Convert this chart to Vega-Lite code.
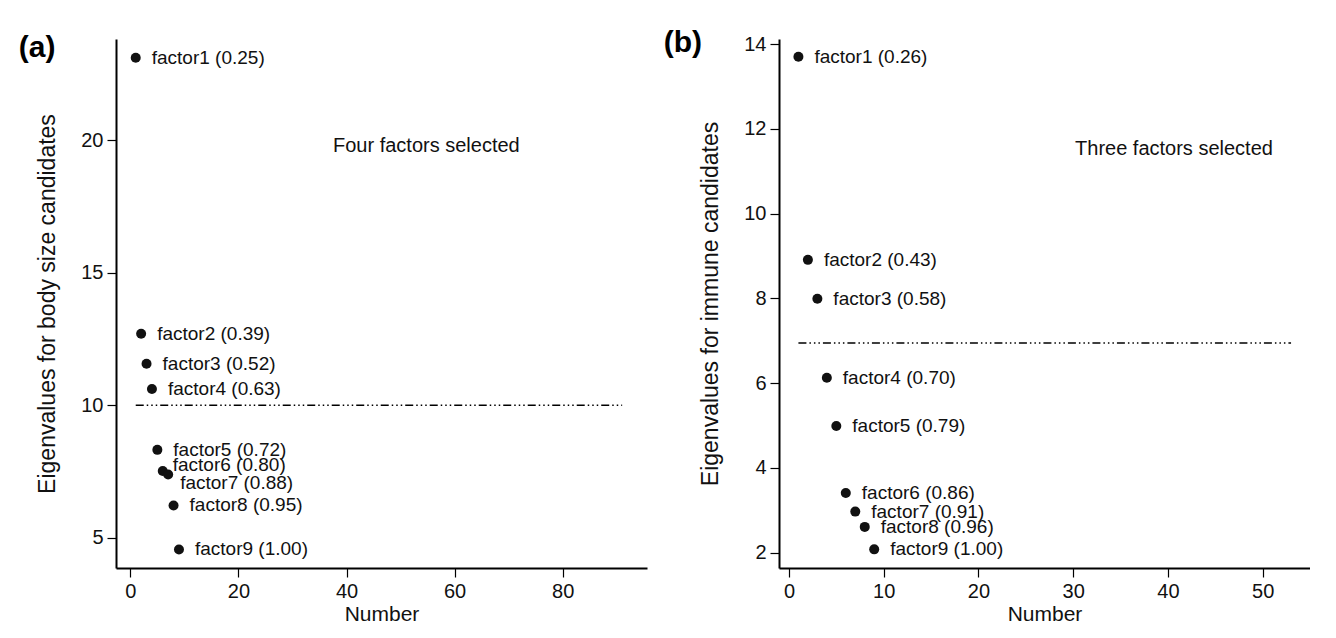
{
  "$schema": "https://vega.github.io/schema/vega-lite/v6.json",
  "background": "white",
  "padding": {"left": 18, "top": 28, "right": 0, "bottom": 0},
  "spacing": 16,
  "datasets": {
    "body": [
      {"n": 1, "eig": 23.12, "label": "factor1 (0.25)"},
      {"n": 2, "eig": 12.7, "label": "factor2 (0.39)"},
      {"n": 3, "eig": 11.57, "label": "factor3 (0.52)"},
      {"n": 4, "eig": 10.62, "label": "factor4 (0.63)"},
      {"n": 5, "eig": 8.32, "label": "factor5 (0.72)"},
      {"n": 6, "eig": 7.52, "label": "factor6 (0.80)"},
      {"n": 7, "eig": 7.39, "label": "factor7 (0.88)"},
      {"n": 8, "eig": 6.22, "label": "factor8 (0.95)"},
      {"n": 9, "eig": 4.56, "label": "factor9 (1.00)"}
    ],
    "immune": [
      {"n": 1, "eig": 13.7, "label": "factor1 (0.26)"},
      {"n": 2, "eig": 8.91, "label": "factor2 (0.43)"},
      {"n": 3, "eig": 7.99, "label": "factor3 (0.58)"},
      {"n": 4, "eig": 6.13, "label": "factor4 (0.70)"},
      {"n": 5, "eig": 4.99, "label": "factor5 (0.79)"},
      {"n": 6, "eig": 3.41, "label": "factor6 (0.86)"},
      {"n": 7, "eig": 2.97, "label": "factor7 (0.91)"},
      {"n": 8, "eig": 2.61, "label": "factor8 (0.96)"},
      {"n": 9, "eig": 2.08, "label": "factor9 (1.00)"}
    ]
  },
  "hconcat": [
    {
      "width": 531,
      "height": 529,
      "title": {"text": "(a)", "dx": -18, "dy": 28},
      "encoding": {
        "x": {"field": "n", "type": "quantitative", "scale": {"domain": [-2.65, 95.6], "nice": false, "zero": false}, "axis": {"values": [0, 20, 40, 60, 80], "title": "Number"}},
        "y": {"field": "eig", "type": "quantitative", "scale": {"domain": [3.86, 23.83], "nice": false, "zero": false}, "axis": {"values": [5, 10, 15, 20], "title": "Eigenvalues for body size candidates"}}
      },
      "layer": [
        {
          "data": {"values": [{"n": 1, "n2": 91, "eig": 10}]},
          "mark": {"type": "rule", "strokeDash": [8, 3, 1.5, 3, 1.5, 3, 1.5, 3], "strokeWidth": 1.5, "color": "#000"},
          "encoding": {"x2": {"field": "n2"}}
        },
        {
          "data": {"name": "body"},
          "mark": {"type": "circle", "size": 100, "opacity": 1, "color": "#111"}
        },
        {
          "data": {"name": "body"},
          "transform": [{"filter": "datum.n != 6 && datum.n != 7"}],
          "mark": {"type": "text", "align": "left", "baseline": "middle", "dx": 16, "fontSize": 19, "color": "#111"},
          "encoding": {"text": {"field": "label"}}
        },
        {
          "data": {"name": "body"},
          "transform": [{"filter": "datum.n == 6"}],
          "mark": {"type": "text", "align": "left", "baseline": "middle", "dx": 10, "dy": -6, "fontSize": 19, "color": "#111"},
          "encoding": {"text": {"field": "label"}}
        },
        {
          "data": {"name": "body"},
          "transform": [{"filter": "datum.n == 7"}],
          "mark": {"type": "text", "align": "left", "baseline": "middle", "dx": 12, "dy": 9, "fontSize": 19, "color": "#111"},
          "encoding": {"text": {"field": "label"}}
        },
        {
          "data": {"values": [{"n": 37.5, "eig": 19.8, "txt": "Four factors selected"}]},
          "mark": {"type": "text", "align": "left", "baseline": "middle", "fontSize": 20, "color": "#111"},
          "encoding": {"text": {"field": "txt"}}
        }
      ]
    },
    {
      "width": 531,
      "height": 529,
      "title": {"text": "(b)", "dx": -36, "dy": 28},
      "encoding": {
        "x": {"field": "n", "type": "quantitative", "scale": {"domain": [-1.05, 55.0], "nice": false, "zero": false}, "axis": {"values": [0, 10, 20, 30, 40, 50], "title": "Number"}},
        "y": {"field": "eig", "type": "quantitative", "scale": {"domain": [1.64, 14.12], "nice": false, "zero": false}, "axis": {"values": [2, 4, 6, 8, 10, 12, 14], "title": "Eigenvalues for immune candidates"}}
      },
      "layer": [
        {
          "data": {"values": [{"n": 1, "n2": 53, "eig": 6.95}]},
          "mark": {"type": "rule", "strokeDash": [8, 3, 1.5, 3, 1.5, 3, 1.5, 3], "strokeWidth": 1.5, "color": "#000"},
          "encoding": {"x2": {"field": "n2"}}
        },
        {
          "data": {"name": "immune"},
          "mark": {"type": "circle", "size": 100, "opacity": 1, "color": "#111"}
        },
        {
          "data": {"name": "immune"},
          "mark": {"type": "text", "align": "left", "baseline": "middle", "dx": 16, "fontSize": 19, "color": "#111"},
          "encoding": {"text": {"field": "label"}}
        },
        {
          "data": {"values": [{"n": 30.2, "eig": 11.52, "txt": "Three factors selected"}]},
          "mark": {"type": "text", "align": "left", "baseline": "middle", "fontSize": 20, "color": "#111"},
          "encoding": {"text": {"field": "txt"}}
        }
      ]
    }
  ],
  "config": {
    "view": {"stroke": null},
    "font": "Liberation Sans",
    "axis": {
      "grid": false,
      "domainColor": "#000",
      "domainWidth": 2,
      "tickColor": "#000",
      "tickWidth": 1.2,
      "tickSize": 9,
      "labelFont": "Liberation Sans",
      "labelFontSize": 20,
      "labelColor": "#111",
      "labelPadding": 4,
      "titleFont": "Liberation Sans",
      "titleFontSize": 23,
      "titleFontWeight": "normal",
      "titleColor": "#111"
    },
    "axisX": {"titlePadding": 2, "titleFontSize": 21},
    "axisY": {"titlePadding": 21},
    "title": {"fontSize": 30, "fontWeight": "bold", "anchor": "start", "frame": "bounds", "color": "#000", "font": "Liberation Sans"}
  }
}
